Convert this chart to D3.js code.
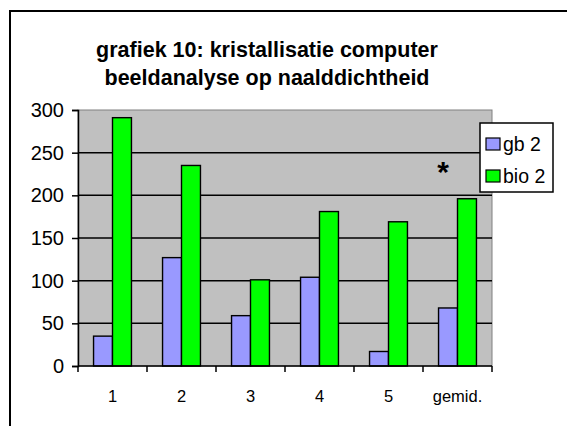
<!DOCTYPE html>
<html>
<head>
<meta charset="utf-8">
<script src="https://cdn.jsdelivr.net/npm/d3@7"></script>
<style>
  html, body { margin: 0; padding: 0; background: #fff; }
  svg { display: block; font-family: Arial, "Liberation Sans", sans-serif; }
</style>
</head>
<body>
<svg id="chart" width="567" height="426"></svg>
<script>
// chart data
const categories = ['1', '2', '3', '4', '5', 'gemid.'];
const seriesNames = ['gb 2', 'bio 2'];
const gbValues = [35, 127, 59, 104, 17, 68];
const bioValues = [291, 235, 101, 181, 169, 196];
const yTicks = [0, 50, 100, 150, 200, 250, 300];
const titleLines = ['grafiek 10: kristallisatie computer', 'beeldanalyse op naalddichtheid'];

const colors = { 'gb 2': '#9999ff', 'bio 2': '#00ff00' };

const svg = d3.select('#chart');

// outer chart frame (runs off the right and bottom edge)
svg.append('rect')
  .attr('x', 10).attr('y', 11)
  .attr('width', 600).attr('height', 440)
  .attr('fill', '#fff')
  .attr('stroke', '#000')
  .attr('stroke-width', 2);

// title
svg.append('g')
  .selectAll('text')
  .data(titleLines)
  .join('text')
  .attr('x', 267)
  .attr('y', (d, i) => 57 + i * 28)
  .attr('text-anchor', 'middle')
  .attr('font-size', '21.5px')
  .attr('font-weight', 'bold')
  .text(d => d);

const plot = { left: 78, top: 110, right: 492, bottom: 366 };

const x = d3.scaleBand()
  .domain(categories)
  .range([plot.left, plot.right]);

const sub = d3.scaleBand()
  .domain(seriesNames)
  .range([0, x.bandwidth()])
  .paddingOuter(0.82)
  .paddingInner(0);

const y = d3.scaleLinear()
  .domain([0, 300])
  .range([plot.bottom, plot.top]);

// plot background
svg.append('rect')
  .attr('x', plot.left).attr('y', plot.top)
  .attr('width', plot.right - plot.left)
  .attr('height', plot.bottom - plot.top)
  .attr('fill', '#c0c0c0')
  .attr('stroke', '#808080')
  .attr('stroke-width', 1);

// gridlines
svg.append('g')
  .selectAll('line')
  .data(yTicks.filter(t => t > 0 && t < 300))
  .join('line')
  .attr('x1', plot.left).attr('x2', plot.right)
  .attr('y1', d => y(d))
  .attr('y2', d => y(d))
  .attr('stroke', '#000')
  .attr('stroke-width', 1.5);

// bars
const table = categories.map((c, i) => ({ cat: c, values: [
  { name: 'gb 2', v: gbValues[i] },
  { name: 'bio 2', v: bioValues[i] }
] }));

svg.append('g')
  .selectAll('g')
  .data(table)
  .join('g')
  .attr('transform', d => `translate(${x(d.cat)},0)`)
  .selectAll('rect')
  .data(d => d.values)
  .join('rect')
  .attr('x', d => sub(d.name))
  .attr('y', d => y(d.v))
  .attr('width', sub.bandwidth())
  .attr('height', d => y(0) - y(d.v))
  .attr('fill', d => colors[d.name])
  .attr('stroke', '#000')
  .attr('stroke-width', 1.4);

// y axis
const yAxis = svg.append('g')
  .attr('transform', `translate(${plot.left},0)`)
  .call(d3.axisLeft(y).tickValues(yTicks).tickSize(6).tickPadding(8));
yAxis.selectAll('text').attr('font-size', '20px').attr('fill', '#000').attr('font-family', 'Arial, "Liberation Sans", sans-serif');
yAxis.selectAll('line, path').attr('stroke', '#000').attr('stroke-width', 1.5);

// x axis (ticks on category boundaries)
const xAxis = svg.append('g')
  .attr('transform', `translate(0,${plot.bottom})`);
xAxis.append('line')
  .attr('x1', plot.left).attr('x2', plot.right)
  .attr('stroke', '#000').attr('stroke-width', 1.5);
xAxis.selectAll('line.tick')
  .data(categories.map(c => x(c)).concat([plot.right]))
  .join('line')
  .attr('class', 'tick')
  .attr('x1', d => d).attr('x2', d => d)
  .attr('y1', 0).attr('y2', 6)
  .attr('stroke', '#000').attr('stroke-width', 1.5);
xAxis.selectAll('text')
  .data(categories)
  .join('text')
  .attr('x', d => x(d) + x.bandwidth() / 2)
  .attr('y', 36)
  .attr('text-anchor', 'middle')
  .attr('font-size', '16.5px')
  .text(d => d);

// significance marker
svg.append('text')
  .attr('x', 443).attr('y', 182)
  .attr('text-anchor', 'middle')
  .attr('font-size', '30px')
  .attr('font-weight', 'bold')
  .text('*');

// legend
const legend = svg.append('g').attr('transform', 'translate(480,123)');
legend.append('rect')
  .attr('width', 73).attr('height', 69)
  .attr('fill', '#fff').attr('stroke', '#000').attr('stroke-width', 1.5);
const items = legend.selectAll('g')
  .data(seriesNames)
  .join('g')
  .attr('transform', (d, i) => `translate(6,${21 + i * 32})`);
items.append('rect')
  .attr('y', -6).attr('width', 14).attr('height', 12)
  .attr('fill', d => colors[d]).attr('stroke', '#000').attr('stroke-width', 1.2);
items.append('text')
  .attr('x', 17).attr('y', 7)
  .attr('font-size', '19.5px')
  .text(d => d);
</script>
</body>
</html>
